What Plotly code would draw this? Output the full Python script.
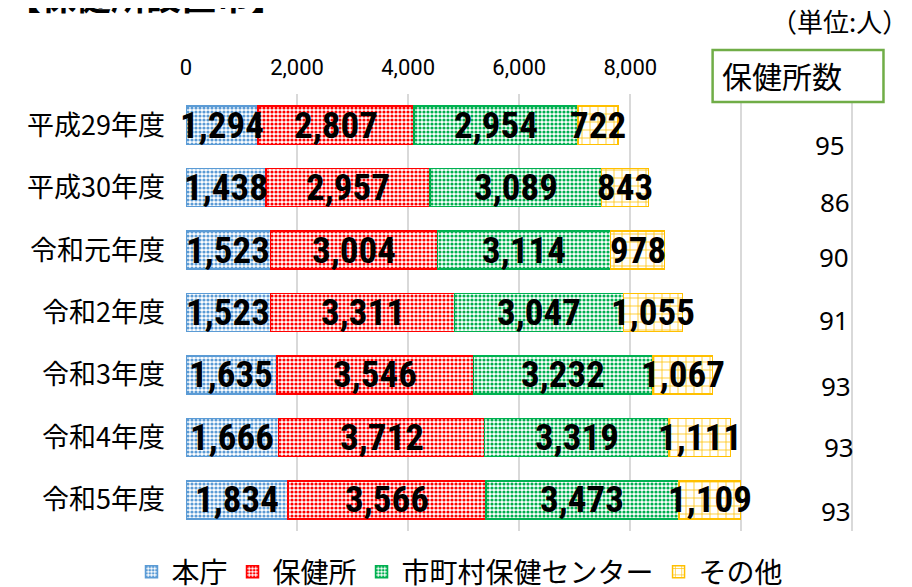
import plotly.graph_objects as go

categories = ["平成29年度", "平成30年度", "令和元年度", "令和2年度", "令和3年度", "令和4年度", "令和5年度"]
series_names = ["本庁", "保健所", "市町村保健センター", "その他"]
honcho = [1294, 1438, 1523, 1523, 1635, 1666, 1834]
hokenjo = [2807, 2957, 3004, 3311, 3546, 3712, 3566]
center = [2954, 3089, 3114, 3047, 3232, 3319, 3473]
sonota = [722, 843, 978, 1055, 1067, 1111, 1109]
hokenjo_count = [95, 86, 90, 91, 93, 93, 93]
tick_vals = [0, 2000, 4000, 6000, 8000, 10000, 12000]
tick_text = ["0", "2,000", "4,000", "6,000", "8,000", "", ""]

series = [honcho, hokenjo, center, sonota]
colors = ["#5B9BD5", "#FF0000", "#00B050", "#FFC000"]
shapes_pat = [".", ".", ".", "+"]
pat_size = [4, 4, 4, 8]
pat_sol = [0.5, 0.5, 0.5, 0.18]

W, H = 912, 587
OFF = 8  # page body margin offset in the browser
X0_PX, XEND_PX, XMAX = 186, 858.5, 12100   # target pixel of x=0 and right edge
Y_TOP_PX, Y_BOT_PX = 94, 531
ML = X0_PX - OFF
MR = W - (XEND_PX - OFF)
MT = Y_TOP_PX - OFF
MB = H - (Y_BOT_PX - OFF)
PW, PH = W - ML - MR, H - MT - MB

def px_to_paper_x(px):
    return (px - OFF - ML) / PW

def px_to_paper_y(py):
    return (H - MB - (py - OFF)) / PH

fig = go.Figure()
for name, vals, c, sh, sz, so in zip(series_names, series, colors, shapes_pat, pat_size, pat_sol):
    fig.add_trace(go.Bar(
        y=categories, x=vals, name=name, orientation="h", width=0.61,
        marker=dict(color="white", line=dict(color=c, width=1.5),
                    pattern=dict(shape=sh, fgcolor=c, bgcolor="white", size=sz, solidity=so, fillmode="replace")),
        hoverinfo="x+name",
    ))

annotations = []
# data labels
for i, cat in enumerate(categories):
    base = 0
    for vals in series:
        v = vals[i]
        annotations.append(dict(
            x=base + v / 2, y=cat, xref="x", yref="y", text=f"{v:,}", showarrow=False,
            font=dict(family="Roboto Condensed, Open Sans Condensed, sans-serif",
                      size=37, color="black", weight="bold"),
            xanchor="center", yanchor="middle", yshift=0,
        ))
        base += v

# 保健所数 values
count_yshift = [-20, -14, -7, -7, -11, -10, -11]
count_x = [830, 835, 834, 834, 836, 839, 836]
for cat, n, ys, cx in zip(categories, hokenjo_count, count_yshift, count_x):
    annotations.append(dict(
        x=px_to_paper_x(cx), y=cat, xref="paper", yref="y", text=str(n), showarrow=False,
        font=dict(family="Noto Sans, sans-serif", size=26, color="black"),
        xanchor="center", yanchor="middle", yshift=ys,
    ))

annotations.append(dict(
    x=px_to_paper_x(720), y=px_to_paper_y(75), xref="paper", yref="paper", text="保健所数",
    showarrow=False, font=dict(family="Noto Sans CJK JP", size=30, color="black"),
    xanchor="left", yanchor="middle",
))
annotations.append(dict(
    x=px_to_paper_x(911), y=px_to_paper_y(20), xref="paper", yref="paper", text="（単位:人）",
    showarrow=False, font=dict(family="Noto Sans CJK JP", size=26, color="black"),
    xanchor="right", yanchor="middle",
))
annotations.append(dict(
    x=px_to_paper_x(4), y=px_to_paper_y(-6), xref="paper", yref="paper", text="【保健所設置市】",
    showarrow=False, font=dict(family="Noto Sans CJK JP", size=35, color="black", weight="bold"),
    xanchor="left", yanchor="middle",
))

fig.update_layout(
    width=W, height=H, barmode="stack",
    margin=dict(l=ML, r=MR, t=MT, b=MB, autoexpand=False),
    plot_bgcolor="white", paper_bgcolor="white",
    font=dict(family="Noto Sans CJK JP, sans-serif", color="black"),
    xaxis=dict(range=[0, XMAX], side="top", tickvals=tick_vals, ticktext=tick_text,
               showgrid=True, gridcolor="#D9D9D9", gridwidth=1.5, zeroline=False,
               tickfont=dict(family="Roboto, Liberation Sans", size=22, color="black"),
               ticks="", ticklabelstandoff=14, showline=False, automargin=False, tickangle=0),
    yaxis=dict(range=[len(categories) - 0.5, -0.5], autorange=False,
               tickfont=dict(family="Noto Sans CJK JP", size=27, color="black"),
               ticks="", ticklabelstandoff=20, showgrid=False, showline=False, automargin=False),
    legend=dict(orientation="h", xref="container", x=(460 - OFF) / W, xanchor="center",
                yref="paper", y=px_to_paper_y(572), yanchor="middle",
                font=dict(family="Noto Sans CJK JP", size=28, color="black"),
                itemwidth=30, traceorder="normal"),
    annotations=annotations,
    shapes=[dict(type="rect", xref="paper", yref="paper",
                 x0=px_to_paper_x(713), x1=px_to_paper_x(884),
                 y0=px_to_paper_y(102), y1=px_to_paper_y(50),
                 line=dict(color="#70AD47", width=2.5), fillcolor="white", layer="above")],
    showlegend=True,
)

fig.write_html("out.html")
